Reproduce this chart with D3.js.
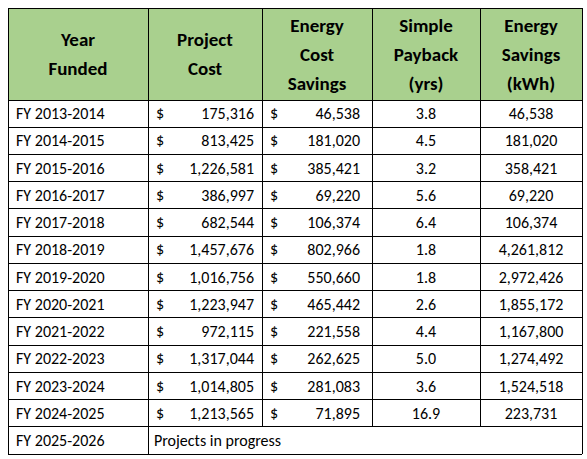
<!DOCTYPE html><html><head><meta charset="utf-8">
<script src="https://cdn.jsdelivr.net/npm/d3@7"></script>
<style>body{margin:0;background:#fff}</style></head><body><svg id="c" width="587" height="459"></svg>
<script>
const headers=[["Year","Funded"],["Project","Cost"],["Energy","Cost","Savings"],["Simple","Payback","(yrs)"],["Energy","Savings","(kWh)"]];
const years=["FY 2013-2014","FY 2014-2015","FY 2015-2016","FY 2016-2017","FY 2017-2018","FY 2018-2019","FY 2019-2020","FY 2020-2021","FY 2021-2022","FY 2022-2023","FY 2023-2024","FY 2024-2025","FY 2025-2026"];
const projectCost=["175,316","813,425","1,226,581","386,997","682,544","1,457,676","1,016,756","1,223,947","972,115","1,317,044","1,014,805","1,213,565"];
const costSavings=["46,538","181,020","385,421","69,220","106,374","802,966","550,660","465,442","221,558","262,625","281,083","71,895"];
const payback=["3.8","4.5","3.2","5.6","6.4","1.8","1.8","2.6","4.4","5.0","3.6","16.9"];
const kwh=["46,538","181,020","358,421","69,220","106,374","4,261,812","2,972,426","1,855,172","1,167,800","1,274,492","1,524,518","223,731"];
const lastNote="Projects in progress";
const svg=d3.select("#c");
const colX=[8,148,262,372,480,582];
const topY=8,headH=92;
const y=d3.scaleBand().domain(d3.range(years.length)).range([topY+headH,454]);
const F="Carlito, 'Liberation Sans', Arial, sans-serif";
svg.append("rect").attr("x",colX[0]).attr("y",topY).attr("width",colX[5]-colX[0]).attr("height",headH).attr("fill","#A9D08E");
headers.forEach((h,i)=>{const cx=(colX[i]+colX[i+1])/2;const lh=29;const y0=topY+headH/2-(h.length-1)*lh/2;
 h.forEach((t,j)=>svg.append("text").attr("x",cx).attr("y",y0+j*lh).attr("dy","0.35em").attr("text-anchor","middle").attr("font-family",F).attr("font-weight","bold").attr("font-size",19).text(t));});
const txt=(x,yy,t,a)=>svg.append("text").attr("x",x).attr("y",yy).attr("dy","0.35em").attr("text-anchor",a).attr("font-family",F).attr("font-size",16).attr("fill","#000").text(t);
years.forEach((yr,i)=>{const cy=y(i)+y.bandwidth()/2;
 txt(colX[0]+8,cy,yr,"start");
 if(i<projectCost.length){
  txt(colX[1]+8,cy,"$","start");txt(colX[2]-8,cy,projectCost[i],"end");
  txt(colX[2]+8,cy,"$","start");txt(colX[3]-12,cy,costSavings[i],"end");
  txt((colX[3]+colX[4])/2,cy,payback[i],"middle");
  txt((colX[4]+colX[5])/2,cy,kwh[i],"middle");
 } else txt(colX[1]+6,cy,lastNote,"start");
});
const g=svg.append("g").attr("stroke","#000").attr("stroke-width",1).attr("shape-rendering","crispEdges");
[topY,topY+headH,...years.map((d,i)=>y(i)+y.bandwidth())].forEach(v=>g.append("line").attr("x1",colX[0]).attr("x2",colX[5]).attr("y1",v).attr("y2",v));
colX.forEach((x,i)=>{g.append("line").attr("x1",x).attr("x2",x).attr("y1",topY).attr("y2",(i==0||i==1||i==5)?454:y(years.length-1));});
</script></body></html>
